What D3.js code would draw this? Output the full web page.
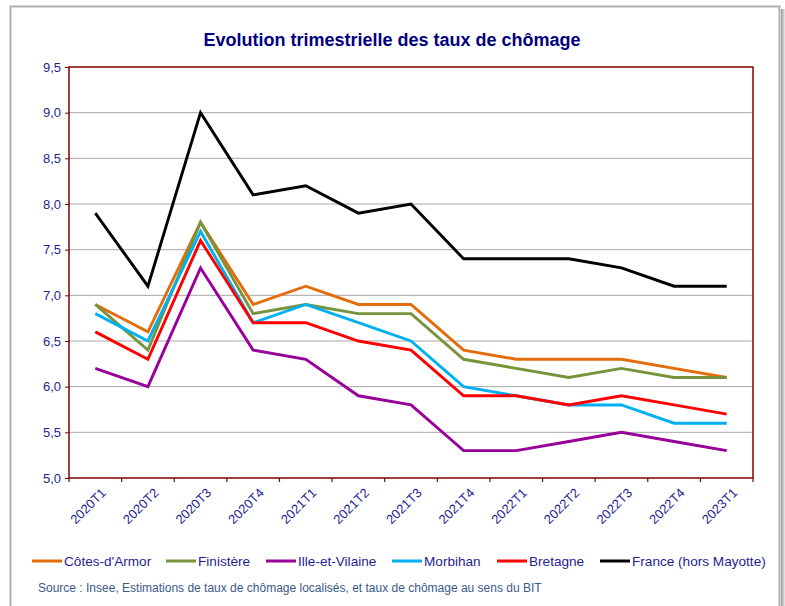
<!DOCTYPE html>
<html><head><meta charset="utf-8">
<script src="https://cdn.jsdelivr.net/npm/d3@7"></script>
<style>body{margin:0;background:#fff;}svg{display:block;font-family:"Liberation Sans",Arial,sans-serif;}</style>
</head><body>
<svg id="c" width="785" height="606"></svg>
<script>
const categories = ["2020T1","2020T2","2020T3","2020T4","2021T1","2021T2","2021T3","2021T4","2022T1","2022T2","2022T3","2022T4","2023T1"];
const seriesNames = ["Côtes-d'Armor","Finistère","Ille-et-Vilaine","Morbihan","Bretagne","France (hors Mayotte)"];
const cotesArmor   = [6.9,6.6,7.8,6.9,7.1,6.9,6.9,6.4,6.3,6.3,6.3,6.2,6.1];
const finistere    = [6.9,6.4,7.8,6.8,6.9,6.8,6.8,6.3,6.2,6.1,6.2,6.1,6.1];
const illeVilaine  = [6.2,6.0,7.3,6.4,6.3,5.9,5.8,5.3,5.3,5.4,5.5,5.4,5.3];
const morbihan     = [6.8,6.5,7.7,6.7,6.9,6.7,6.5,6.0,5.9,5.8,5.8,5.6,5.6];
const bretagne     = [6.6,6.3,7.6,6.7,6.7,6.5,6.4,5.9,5.9,5.8,5.9,5.8,5.7];
const france       = [7.9,7.1,9.0,8.1,8.2,7.9,8.0,7.4,7.4,7.4,7.3,7.1,7.1];
const yTicks = [5.0,5.5,6.0,6.5,7.0,7.5,8.0,8.5,9.0,9.5];
const colors = ["#E46C0A","#77933C","#990099","#00B0F0","#FF0000","#000000"];
const allSeries = [cotesArmor, finistere, illeVilaine, morbihan, bretagne, france];

const svg = d3.select("#c");
const defs = svg.append("defs");
const g = defs.append("linearGradient").attr("id","sh").attr("x1","0").attr("x2","1");
g.append("stop").attr("offset","0").attr("stop-color","#9a9a9a");
g.append("stop").attr("offset","1").attr("stop-color","#ffffff");
svg.append("rect").attr("x",781).attr("y",9).attr("width",5).attr("height",600).attr("fill","url(#sh)");
svg.append("rect").attr("x",10.5).attr("y",6.5).attr("width",769).attr("height",610)
  .attr("fill","#fff").attr("stroke","#b0b0b0").attr("stroke-width",2);

const L=69, R=753, T=67, B=478;
const x = d3.scaleBand().domain(categories).range([L,R]);
const y = d3.scaleLinear().domain([5,9.5]).range([B,T]);

svg.append("text").attr("x",392).attr("y",45.5).attr("text-anchor","middle")
  .attr("font-size",18).attr("font-weight","bold").attr("fill","#000080")
  .text("Evolution trimestrielle des taux de chômage");

svg.append("g").selectAll("line").data(yTicks.slice(1,-1)).join("line")
  .attr("x1",L).attr("x2",R).attr("y1",d=>y(d)).attr("y2",d=>y(d))
  .attr("stroke","#a6a6a6").attr("stroke-width",1);

const ya = svg.append("g").attr("transform",`translate(${L},0)`)
  .call(d3.axisLeft(y).tickValues(yTicks).tickSize(4).tickPadding(4)
    .tickFormat(d=>d3.format(".1f")(d).replace(".",",")));
ya.select(".domain").remove();
ya.selectAll("line").attr("stroke","#800000");
ya.selectAll("text").attr("fill","#1f1f8f").attr("font-size",13).attr("font-family","'Liberation Sans',Arial,sans-serif");

const xa = svg.append("g").attr("transform",`translate(0,${B})`);
const bounds = categories.map(c=>x(c)).concat([R]);
xa.selectAll("line").data(bounds).join("line")
  .attr("x1",d=>d).attr("x2",d=>d).attr("y1",0).attr("y2",4)
  .attr("stroke","#800000").attr("stroke-width",1.2);
xa.selectAll("text").data(categories).join("text")
  .attr("transform",d=>`translate(${x(d)+x.bandwidth()/2+5},${9}) rotate(-45)`)
  .attr("text-anchor","end").attr("dy","0.72em")
  .attr("font-size",13).attr("fill","#1f1f8f").text(d=>d);

svg.append("rect").attr("x",L).attr("y",T).attr("width",R-L).attr("height",B-T)
  .attr("fill","none").attr("stroke","#800000").attr("stroke-width",1.5);

const line = d3.line().x((d,i)=>x(categories[i])+x.bandwidth()/2).y(d=>y(d));
allSeries.forEach((s,i)=>{
  svg.append("path").datum(s).attr("d",line).attr("fill","none")
    .attr("stroke",colors[i]).attr("stroke-width",2.9).attr("stroke-linejoin","miter");
});

const legX = [32,166,266,392,497,600];
seriesNames.forEach((n,i)=>{
  svg.append("line").attr("x1",legX[i]).attr("x2",legX[i]+30).attr("y1",561).attr("y2",561)
    .attr("stroke",colors[i]).attr("stroke-width",3);
  svg.append("text").attr("x",legX[i]+32).attr("y",566).attr("font-size",13.6)
    .attr("fill","#1f1f8f").text(n);
});

svg.append("text").attr("x",38).attr("y",592).attr("font-size",12).attr("fill","#3a5a8a")
  .text("Source : Insee, Estimations de taux de chômage localisés, et taux de chômage au sens du BIT");
</script>
</body></html>
